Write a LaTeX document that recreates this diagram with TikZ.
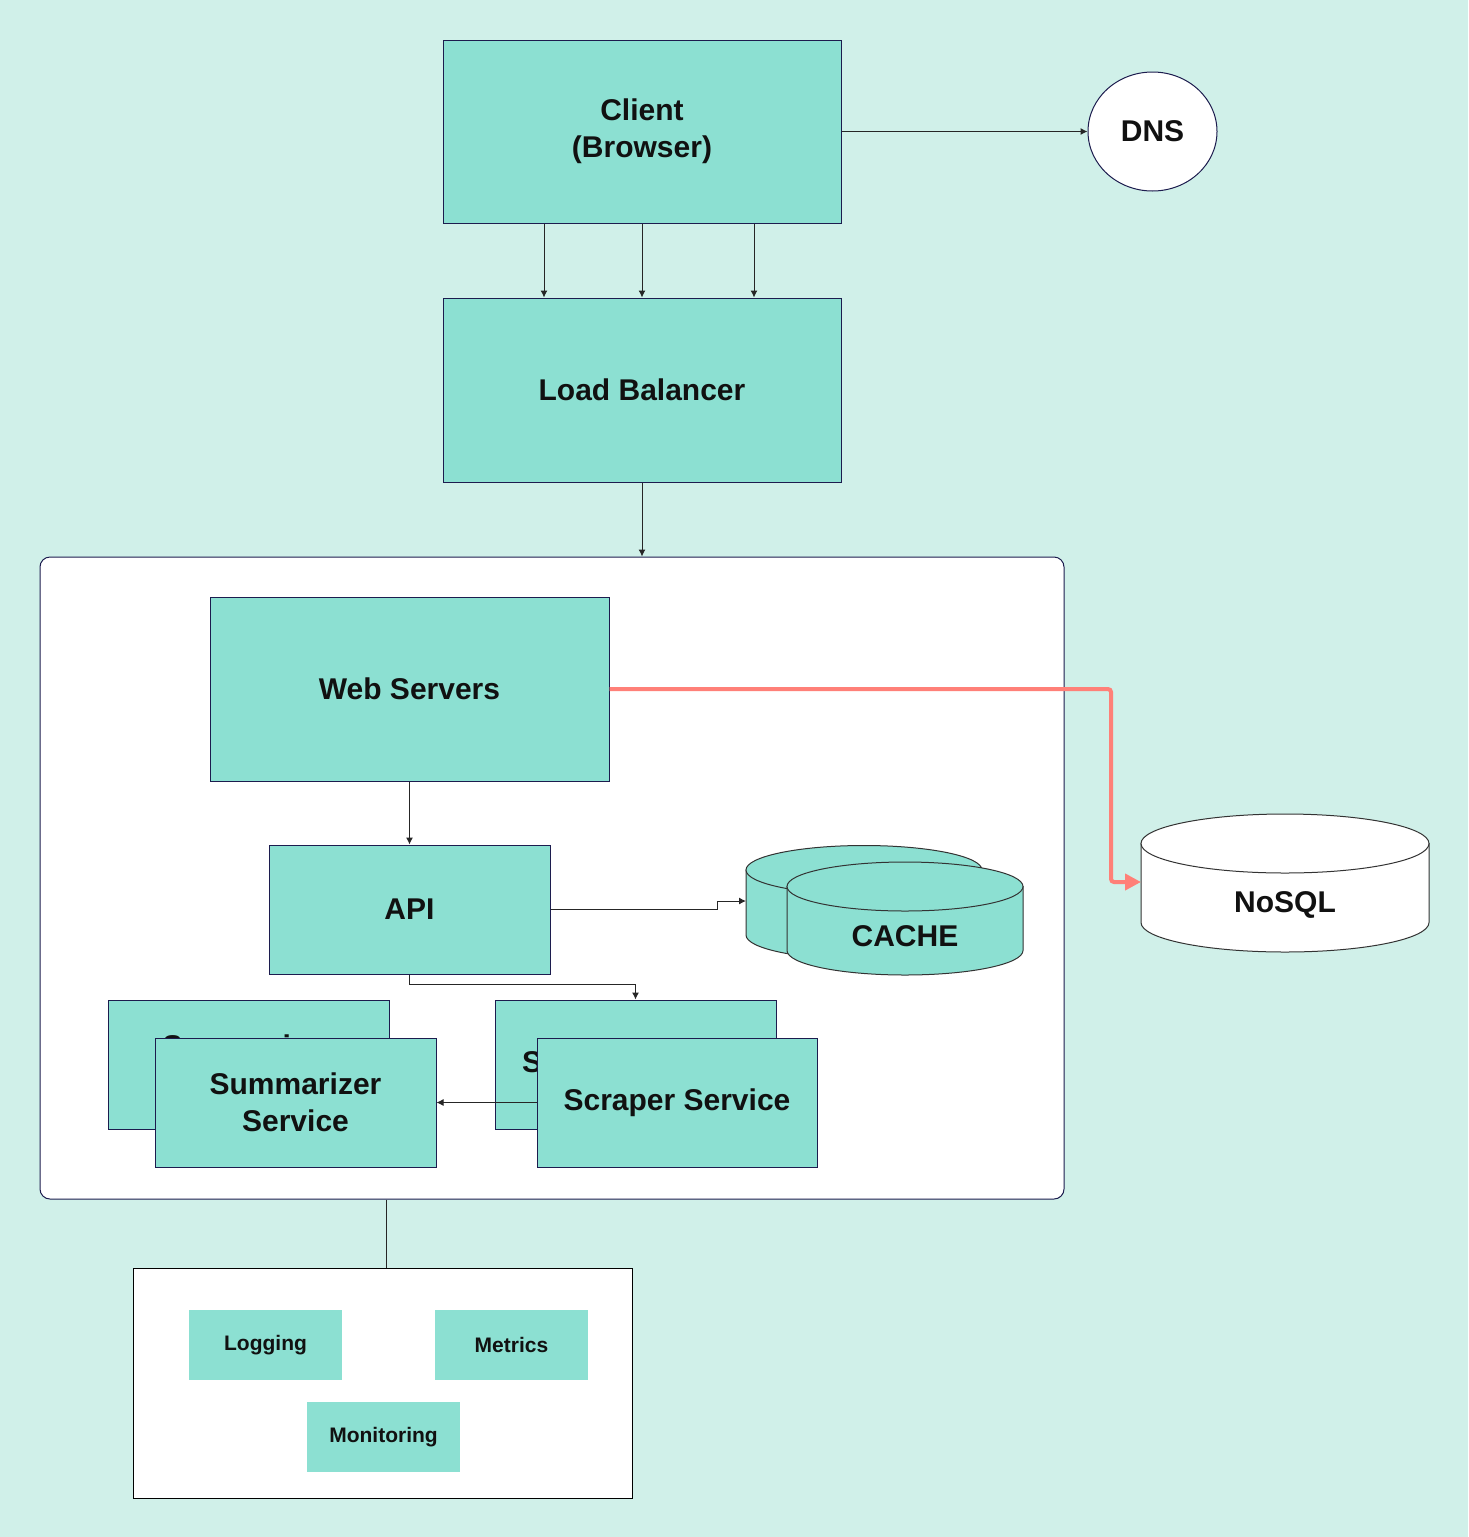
\documentclass[tikz,border=0pt]{standalone}
\usepackage{fontspec}
\setmainfont{Liberation Sans}
\usetikzlibrary{arrows.meta,shapes.geometric,calc}
\definecolor{bgc}{HTML}{D0F0E9}
\definecolor{mint}{HTML}{8CE0D2}
\definecolor{navy}{HTML}{1C1C4E}
\definecolor{redl}{HTML}{FF8078}
\definecolor{txt}{HTML}{111111}
\tikzset{
  big/.style={font=\bfseries\fontsize{15}{18.5}\selectfont, text=txt, align=center},
  small/.style={font=\bfseries\fontsize{10.5}{13}\selectfont, text=txt, align=center},
  mbox/.style={draw=navy, line width=0.5pt, fill=mint, inner sep=0pt, big},
  sbox/.style={fill=mint, inner sep=0pt, small, minimum width=76.5pt, minimum height=35pt},
  arr/.style={-{Latex[length=3.5pt,width=3.5pt]}, line width=0.5pt, draw=black!85},
  plain/.style={line width=0.5pt, draw=black!85},
  cyl/.style={draw=black!80, line width=0.5pt},
}
\begin{document}
\begin{tikzpicture}[x=0.5pt,y=-0.5pt]
\fill[bgc] (0,0) rectangle (1468,1537);
\useasboundingbox (0,0) rectangle (1468,1537);

% container
\node[draw=navy, line width=0.5pt, fill=white, rounded corners=5pt, minimum width=512pt, minimum height=321pt, inner sep=0pt] (cont) at (552,878) {};

% top boxes
\node[mbox, minimum width=199pt, minimum height=91.5pt] (client) at (642,131.5) {Client\\(Browser)};
\node[draw=navy, line width=0.5pt, fill=white, ellipse, minimum width=64.5pt, minimum height=59.5pt, inner sep=0pt, big] (dns) at (1152.5,131.5) {DNS};
\node[mbox, minimum width=199pt, minimum height=92pt] (lb) at (642,390) {Load Balancer};

% inner boxes
\node[mbox, minimum width=199.5pt, minimum height=92pt] (web) at (409.5,689) {Web Servers};
\node[mbox, minimum width=140.5pt, minimum height=64.5pt] (api) at (409.5,909.5) {API};
\node[mbox, minimum width=140.5pt, minimum height=64.5pt] (sumB) at (248.5,1064.5) {Summarizer\\Service};
\node[mbox, minimum width=140.5pt, minimum height=64.5pt] (scrB) at (635.5,1064.5) {Scraper Service};
\node[mbox, minimum width=140.5pt, minimum height=64.5pt] (sum) at (295.5,1102.5) {Summarizer\\Service};
\node[mbox, minimum width=140pt, minimum height=64.5pt] (scr) at (677,1102.5) {Scraper Service};

% cache cylinders
\filldraw[cyl, fill=mint] (746,870) -- (746,935) arc[start angle=180, end angle=0, x radius=118, y radius=24.5] -- (982,870) -- cycle;
\filldraw[cyl, fill=mint] (864,870) ellipse[x radius=118, y radius=24.5];
\filldraw[cyl, fill=mint] (787,886.5) -- (787,950.5) arc[start angle=180, end angle=0, x radius=118, y radius=24.5] -- (1023,886.5) -- cycle;
\filldraw[cyl, fill=mint] (905,886.5) ellipse[x radius=118, y radius=24.5];
\node[big] (cache) at (905,936) {CACHE};
\coordinate (cacheW) at (746,901);

% NoSQL cylinder
\filldraw[cyl, fill=white] (1141,843.5) -- (1141,922.5) arc[start angle=180, end angle=0, x radius=144, y radius=29.5] -- (1429,843.5) -- cycle;
\filldraw[cyl, fill=white] (1285,843.5) ellipse[x radius=144, y radius=29.5];
\node[big] (nosql) at (1285,905) {NoSQL};
\coordinate (nosqlW) at (1141,882);

% bottom box
\node[draw=black, line width=0.5pt, fill=white, minimum width=249.5pt, minimum height=115pt, inner sep=0pt] (bot) at (382.5,1383) {};
\node[sbox] (log) at (265.5,1345) {Logging};
\node[sbox] (met) at (511.5,1345) {Metrics};
\node[sbox] (mon) at (383.5,1437) {Monitoring};

% connectors
\coordinate (c1) at (544,0);
\coordinate (c2) at (642,0);
\coordinate (c3) at (754,0);
\coordinate (c5) at (386,0);
\draw[arr] (client.east) -- (dns.west);
\draw[arr] (c1 |- client.south) -- (c1 |- lb.north);
\draw[arr] (c2 |- client.south) -- (c2 |- lb.north);
\draw[arr] (c3 |- client.south) -- (c3 |- lb.north);
\draw[arr] (lb.south) -- (lb.south |- cont.north);
\draw[arr] (web.south) -- (api.north);
\coordinate (k1) at (717,901);
\draw[arr] (api.east) -| (k1) -- (cacheW);
\draw[arr] (api.south) |- ($(scrB.north)+(0,-15)$) -- (scrB.north);
\draw[arr] (scr.west) -- (sum.east);
\draw[plain] (c5 |- cont.south) -- (c5 |- bot.north);
\draw[redl, line width=2pt, rounded corners=1.5pt, -{Triangle[length=8pt,width=8pt]}] (web.east) -| ($(nosqlW)+(-30,0)$) -- (nosqlW);
\end{tikzpicture}
\end{document}
